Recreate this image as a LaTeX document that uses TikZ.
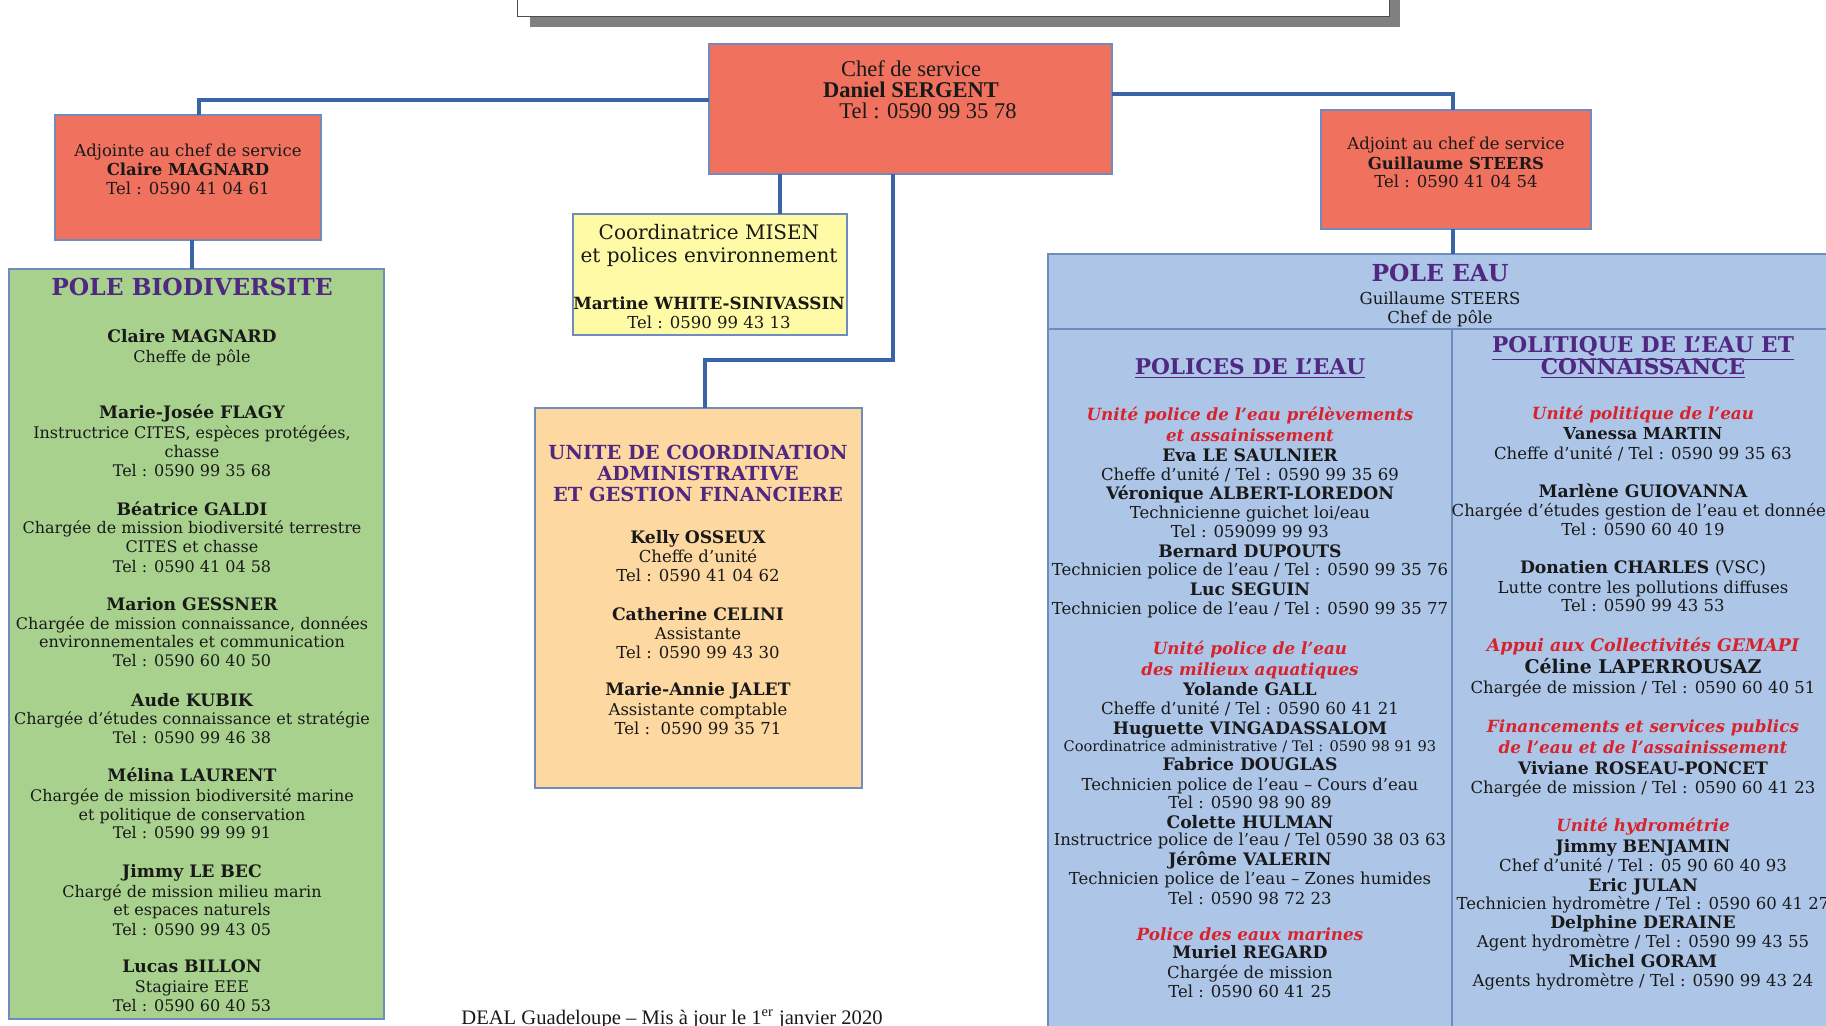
\documentclass[tikz,border=0pt]{standalone}
\usepackage{fontspec}
\setmainfont{DejaVu Serif}
\newfontfamily\timesf{Liberation Serif}
\definecolor{salmon}{RGB}{240,114,94}
\definecolor{bordc}{RGB}{112,140,190}
\definecolor{greenf}{RGB}{169,209,142}
\definecolor{yellowf}{RGB}{255,250,165}
\definecolor{orangef}{RGB}{253,216,160}
\definecolor{bluef}{RGB}{173,197,231}
\definecolor{connc}{RGB}{58,100,168}
\definecolor{purp}{RGB}{80,40,130}
\definecolor{redh}{RGB}{215,35,45}
\definecolor{txtc}{RGB}{25,25,25}
\tikzset{
  boxn/.style={draw=bordc, line width=0.6pt, inner sep=0pt, outer sep=0pt, anchor=north west},
  sz/.style 2 args={minimum width=#1*0.5pt, minimum height=#2*0.5pt},
  conn/.style={draw=connc, line width=2.4pt},
  tl/.style={inner sep=0pt, anchor=mid, yshift=-0.9pt, text=txtc, font=\fontsize{8.25}{9.5}\selectfont},
  gr/.style={font=\fontsize{8}{9.5}\selectfont},
  nmb/.style={font=\fontsize{8.6}{9.5}\selectfont\bfseries},
  rh/.style={text=redh, yshift=-0.4pt, font=\fontsize{8.4}{10}\selectfont\bfseries\itshape},
  ttl/.style={text=purp, yshift=-0.8pt, font=\fontsize{10.85}{12}\selectfont\bfseries},
  chf/.style={yshift=-0.2pt, font=\timesf\fontsize{11.25}{12}\selectfont},
}
\newcommand\tlines[4][]{\foreach \yy/\tx in {#4} {\node[tl,#1] (#3-\yy) at (#2,\yy) {\tx};}}
\begin{document}
\begin{tikzpicture}[x=0.5pt,y=-0.5pt]
\clip (0,0) rectangle (1826,1025);
\fill[white] (0,0) rectangle (1826,1025);
% banner
\fill[black!50] (530,-10) rectangle (1400,27);
\draw[fill=white, draw=black!70, line width=0.5pt] (517,-10) rectangle (1389,16);
% boxes
\node[boxn, fill=salmon, sz={403}{130}] (chef) at (709,44) {};
\node[boxn, fill=salmon, sz={266}{125}] (adj1) at (55,115) {};
\node[boxn, fill=salmon, sz={270}{119}] (adj2) at (1321,110) {};
\node[boxn, fill=yellowf, sz={274}{121}] (coord) at (573,214) {};
\node[boxn, fill=orangef, sz={327}{380}] (ucagf) at (535,408) {};
\node[boxn, fill=greenf, sz={375}{750}] (bio) at (9,269) {};
\node[boxn, fill=bluef, sz={800}{75}] (eau) at (1048,254) {};
\node[boxn, fill=bluef, sz={404}{720}] (col1) at (1048,329) {};
\node[boxn, fill=bluef, sz={400}{720}] (col2) at (1452,329) {};
% connectors
\coordinate (bend) at (705,360);
\draw[conn] (chef.west |- 0,100) -| (adj1.north -| 199,0);
\draw[conn] (chef.east |- 0,94) -| (adj2.north -| 1453,0);
\draw[conn] (chef.south -| 780,0) -- (coord.north -| 780,0);
\draw[conn] (chef.south -| 893,0) |- (bend) -- (ucagf.north -| bend);
\draw[conn] (adj1.south -| 192,0) -- (bio.north -| 192,0);
\draw[conn] (adj2.south -| 1453,0) -- (eau.north -| 1453,0);
% chef
\node[tl,chf] (c1) at (911,69) {Chef de service};
\node[tl,chf] (c2) at (911,90) {\bfseries Daniel SERGENT};
\node[tl,chf] (c3) at (928,111) {Tel : 0590 99 35 78};
% adjointe
\tlines{188}{a}{149/{Adjointe au chef de service}, 187/{Tel : 0590 41 04 61}}
\tlines[nmb,font=\fontsize{8.25}{9.5}\selectfont\bfseries]{188}{an}{168/{Claire MAGNARD}}
\tlines{1456}{g}{142/{Adjoint au chef de service}, 180/{Tel : 0590 41 04 54}}
\tlines[nmb,font=\fontsize{8.25}{9.5}\selectfont\bfseries]{1456}{gn}{162/{Guillaume STEERS}}
% coordinatrice
\tlines[font=\fontsize{10}{11}\selectfont]{709}{m}{232/{Coordinatrice MISEN}, 255/{et polices environnement}}
\tlines[font=\fontsize{8.4}{9}\selectfont\bfseries]{709}{mn}{302/{Martine WHITE-SINIVASSIN}}
\tlines{709}{mt}{321/{Tel : 0590 99 43 13}}
% UCAGF
\tlines[ttl,yshift=0.5pt,font=\fontsize{9.7}{11}\selectfont\bfseries]{698}{u}{452/{UNITE DE COORDINATION}, 473/{ADMINISTRATIVE}, 494/{ET GESTION FINANCIERE}}
\tlines[nmb]{698}{un}{536/{Kelly OSSEUX}, 613/{Catherine CELINI}, 688/{Marie-Annie JALET}}
\tlines{698}{ur}{555/{Cheffe d’unité}, 574/{Tel : 0590 41 04 62}, 632/{Assistante}, 651/{Tel : 0590 99 43 30}, 708/{Assistante comptable}, 727/{Tel :\ \ 0590 99 35 71}}
% pole biodiversite
\node[tl,ttl,yshift=-0.6pt,font=\fontsize{11.7}{13}\selectfont\bfseries] (biot) at (192,286) {POLE BIODIVERSITE};
\tlines[nmb]{192}{bn}{335/{Claire MAGNARD}, 411/{Marie-Josée FLAGY}, 508/{Béatrice GALDI}, 603/{Marion GESSNER}, 699/{Aude KUBIK}, 774/{Mélina LAURENT}, 870/{Jimmy LE BEC}, 965/{Lucas BILLON}}
\tlines[gr]{192}{br}{355/{Cheffe de pôle}, 431/{Instructrice CITES, espèces protégées,}, 450/{chasse}, 469/{Tel : 0590 99 35 68}, 526/{Chargée de mission biodiversité terrestre}, 545/{CITES et chasse}, 565/{Tel : 0590 41 04 58}, 622/{Chargée de mission connaissance, données}, 640/{environnementales et communication}, 659/{Tel : 0590 60 40 50}, 717/{Chargée d’études connaissance et stratégie}, 736/{Tel : 0590 99 46 38}, 794/{Chargée de mission biodiversité marine}, 813/{et politique de conservation}, 831/{Tel : 0590 99 99 91}, 890/{Chargé de mission milieu marin}, 908/{et espaces naturels}, 928/{Tel : 0590 99 43 05}, 985/{Stagiaire EEE}, 1004/{Tel : 0590 60 40 53}}
% pole eau
\node[tl,ttl,font=\fontsize{11.7}{13}\selectfont\bfseries] (eaut) at (1440,273) {POLE EAU};
\tlines{1440}{e}{297/{Guillaume STEERS}, 316/{Chef de pôle}}
% polices de l'eau
\node[tl,ttl] (pt) at (1250,366) {\underline{POLICES DE L’EAU}};
\tlines[rh]{1250}{pr}{413/{Unité police de l’eau prélèvements}, 434/{et assainissement}, 647/{Unité police de l’eau}, 668/{des milieux aquatiques}, 933/{Police des eaux marines}}
\tlines[nmb]{1250}{pn}{454/{Eva LE SAULNIER}, 492/{Véronique ALBERT-LOREDON}, 550/{Bernard DUPOUTS}, 588/{Luc SEGUIN}, 688/{Yolande GALL}, 727/{Huguette VINGADASSALOM}, 763/{Fabrice DOUGLAS}, 821/{Colette HULMAN}, 858/{Jérôme VALERIN}, 951/{Muriel REGARD}}
\tlines{1250}{pl}{473/{Cheffe d’unité / Tel : 0590 99 35 69}, 511/{Technicienne guichet loi/eau}, 530/{Tel : 059099 99 93}, 568/{Technicien police de l’eau / Tel : 0590 99 35 76}, 607/{Technicien police de l’eau / Tel : 0590 99 35 77}, 707/{Cheffe d’unité / Tel : 0590 60 41 21}, 783/{Technicien police de l’eau – Cours d’eau}, 801/{Tel : 0590 98 90 89}, 838/{Instructrice police de l’eau / Tel 0590 38 03 63}, 877/{Technicien police de l’eau – Zones humides}, 897/{Tel : 0590 98 72 23}, 971/{Chargée de mission}, 990/{Tel : 0590 60 41 25}}
\tlines[font=\fontsize{7.3}{8}\selectfont]{1250}{ps}{744/{Coordinatrice administrative / Tel : 0590 98 91 93}}
% politique de l'eau
\node[tl,ttl] (qt1) at (1643,344) {\underline{POLITIQUE DE L’EAU ET}};
\node[tl,ttl] (qt2) at (1643,366) {\underline{CONNAISSANCE}};
\tlines[rh]{1643}{qr}{412/{Unité politique de l’eau}, 725/{Financements et services publics}, 746/{de l’eau et de l’assainissement}, 824/{Unité hydrométrie}}
\tlines[rh,font=\fontsize{8.7}{10}\selectfont\bfseries\itshape]{1643}{qg}{644/{Appui aux Collectivités GEMAPI}}
\tlines[nmb]{1643}{qn}{490/{Marlène GUIOVANNA}, 566/{Donatien CHARLES \normalfont(VSC)}, 767/{Viviane ROSEAU-PONCET}, 845/{Jimmy BENJAMIN}, 884/{Eric JULAN}, 921/{Delphine DERAINE}, 960/{Michel GORAM}}
\tlines[nmb,font=\fontsize{8.25}{9.5}\selectfont\bfseries]{1643}{qv}{432/{Vanessa MARTIN}}
\tlines[nmb,font=\fontsize{9.45}{10}\selectfont\bfseries]{1643}{qc}{666/{Céline LAPERROUSAZ}}
\tlines{1643}{ql}{452/{Cheffe d’unité / Tel : 0590 99 35 63}, 509/{Chargée d’études gestion de l’eau et données}, 528/{Tel : 0590 60 40 19}, 586/{Lutte contre les pollutions diffuses}, 604/{Tel : 0590 99 43 53}, 686/{Chargée de mission / Tel : 0590 60 40 51}, 786/{Chargée de mission / Tel : 0590 60 41 23}, 864/{Chef d’unité / Tel : 05 90 60 40 93}, 902/{Technicien hydromètre / Tel : 0590 60 41 27}, 940/{Agent hydromètre / Tel : 0590 99 43 55}, 979/{Agents hydromètre / Tel : 0590 99 43 24}}
% footer
\node[tl,font=\timesf\fontsize{10.3}{11}\selectfont] (foot) at (672,1017) {DEAL Guadeloupe – Mis à jour le 1\textsuperscript{er} janvier 2020};
\end{tikzpicture}
\end{document}
